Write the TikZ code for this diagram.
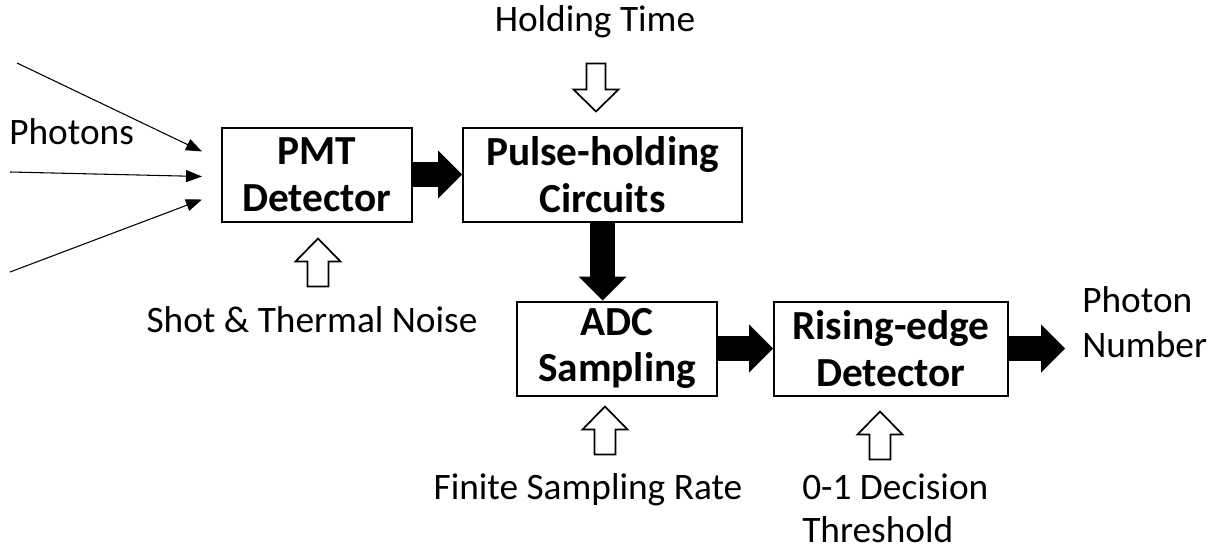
\documentclass[tikz,border=0pt]{standalone}
\usepackage{fontspec}
\setmainfont{Carlito}
\usetikzlibrary{arrows.meta,calc}
\tikzset{
  box/.style={draw, line width=1.5pt, align=center, inner sep=0pt,
    font=\fontsize{31}{35}\selectfont\bfseries},
  lbl/.style={align=center, inner sep=0pt, font=\fontsize{28}{33.5}\selectfont},
  thin/.style={line width=0.8pt, -{Triangle[length=12pt,width=9pt]}},
  fat/.style={line width=18.75pt, -{Triangle[length=18pt,width=36pt,line width=0pt]}},
  hollow/.style={draw, line width=1.3pt, fill=white, line join=miter},
  hup/.pic={\path[hollow] (0,0) -- (22.5,23) -- (10.5,23) -- (10.5,48) -- (-10.5,48) -- (-10.5,23) -- (-22.5,23) -- cycle;},
  hdown/.pic={\path[hollow] (0,0) -- (22.5,-22) -- (9.5,-22) -- (9.5,-48) -- (-9.5,-48) -- (-9.5,-22) -- (-22.5,-22) -- cycle;}
}
\begin{document}
\begin{tikzpicture}[x=0.75pt,y=-0.75pt]
\useasboundingbox (0,0) rectangle (1221,553);
% boxes
\node[box, minimum width=142.5pt, minimum height=70.5pt] (pmt) at (317,174.5) {PMT\\Detector};
\node[box, minimum width=209.25pt, minimum height=70.5pt] (phc) at (602.5,174.5) {Pulse-holding\\Circuits};
\node[box, minimum width=150pt, minimum height=70.5pt] (adc) at (617,348.5) {ADC\\Sampling};
\node[box, minimum width=175.5pt, minimum height=70.5pt] (red) at (891,348.5) {Rising-edge\\Detector};
% labels
\node[lbl] (hold) at (595,22) {Holding Time};
\node[lbl, anchor=west] (phot) at (9,132) {Photons};
\node[lbl] (shot) at (312,320) {Shot \& Thermal Noise};
\node[lbl] (fsr) at (588,490) {Finite Sampling Rate};
\node[lbl, anchor=west, align=left, font=\fontsize{28}{32.5}\selectfont] (dec) at (802,508) {0-1 Decision\\Threshold};
\node[lbl, anchor=west, align=left] (pn) at (1082,322) {Photon\\Number};
% photon arrows
\coordinate (p1) at (17,63);
\coordinate (p2) at (10,172);
\coordinate (p3) at (10,272);
\draw[thin] (p1) -- ($(pmt.west)+(-19,-23)$);
\draw[thin] (p2) -- ($(pmt.west)+(-19,2)$);
\draw[thin] (p3) -- ($(pmt.west)+(-19,25)$);
% fat arrows
\draw[fat] (pmt.east) -- (phc.west);
\draw[fat] (phc.south) -- (phc.south |- adc.north);
\draw[fat] (adc.east) -- (red.west);
\coordinate (outend) at (1065,348.5);
\draw[fat] (red.east) -- (outend);
% hollow arrows
\pic at ($(phc.north)+(-6.5,-15)$) {hdown};
\pic at ($(pmt.south)+(1,16)$) {hup};
\pic at ($(adc.south)+(-12,10)$) {hup};
\pic at ($(red.south)+(-11,15)$) {hup};
\end{tikzpicture}
\end{document}
